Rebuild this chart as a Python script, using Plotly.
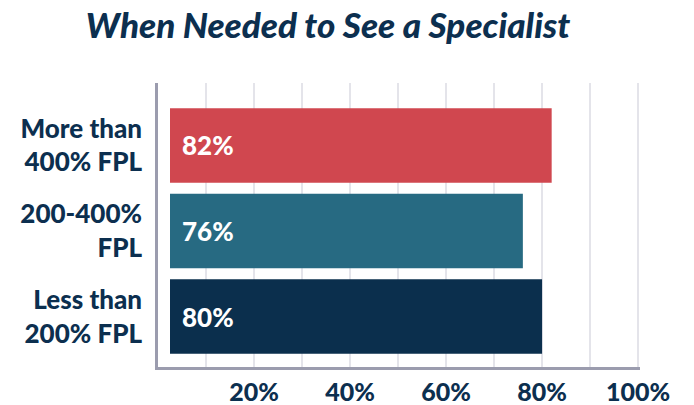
import plotly.graph_objects as go

categories = ["Less than<br>200% FPL", "200-400%<br>FPL", "More than<br>400% FPL"]
values = [80, 76, 82]
bar_colors = ["#0b2f4d", "#276a82", "#d0474f"]
tick_vals = [20, 40, 60, 80, 100]
tick_text = ["20%", "40%", "60%", "80%", "100%"]

BAR_BASE = 2.5  # bars begin slightly right of the axis line
NAVY = "#0c2f4f"
FONT = "Lato Black, Lato"

fig = go.Figure()
fig.add_trace(go.Bar(
    y=categories, x=[v - BAR_BASE for v in values], base=BAR_BASE, orientation="h",
    marker=dict(color=bar_colors, line=dict(width=0)),
    hoverinfo="skip",
))

for c, v in zip(categories, values):
    fig.add_annotation(
        x=BAR_BASE, y=c, xref="x", yref="y", text=f"{v}%", showarrow=False,
        xanchor="left", xshift=10,
        font=dict(family=FONT, size=26, color="white", weight=900),
    )

fig.update_layout(
    width=694, height=405,
    margin=dict(l=158, r=54, t=83, b=38, autoexpand=False),
    paper_bgcolor="white", plot_bgcolor="white",
    bargap=0.13, showlegend=False,
    title=dict(
        text="When Needed to See a Specialist",
        x=328 / 694, xref="container", xanchor="center",
        y=1 - 26 / 405, yref="container", yanchor="middle",
        font=dict(family=FONT, size=35, color=NAVY, weight=900, style="italic"),
    ),
)
fig.update_xaxes(
    range=[0, 100.4], tickvals=tick_vals, ticktext=tick_text,
    showgrid=True, gridcolor="#e4e4ea", gridwidth=2,
    minor=dict(dtick=10, tick0=0, showgrid=True, gridcolor="#e4e4ea", gridwidth=2),
    showline=True, linecolor="#9b9cae", linewidth=2.5,
    zeroline=False, ticks="", ticklabelstandoff=1, automargin=False,
    tickfont=dict(family=FONT, size=25, color=NAVY, weight=900),
    fixedrange=True,
)
fig.update_yaxes(
    range=[-0.59, 2.73], categoryorder="array", categoryarray=categories,
    showgrid=False, showline=True, linecolor="#9b9cae", linewidth=2.5,
    ticks="", ticklabelstandoff=8, automargin=False,
    tickfont=dict(family=FONT, size=26, color=NAVY, weight=900),
    fixedrange=True,
)

fig.write_html("out.html", config={"displayModeBar": False})
